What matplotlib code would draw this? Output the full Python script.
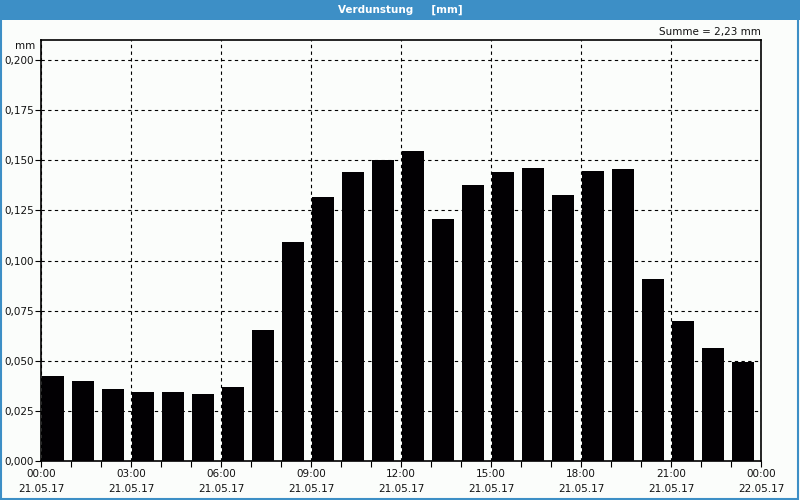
import matplotlib
matplotlib.use('Agg')
import matplotlib.pyplot as plt
import numpy as np
from matplotlib.patches import Rectangle
from matplotlib.ticker import FixedLocator, MultipleLocator, FuncFormatter

# hourly evaporation, 21.05.17 00:00 .. 22.05.17 00:00
hours = np.arange(24)
values = [0.0425, 0.040, 0.036, 0.0345, 0.0345, 0.0335, 0.037, 0.0655,
          0.109, 0.1315, 0.144, 0.150, 0.1545, 0.1205, 0.1375, 0.144,
          0.146, 0.1325, 0.1445, 0.1455, 0.091, 0.070, 0.0565, 0.0495]
tick_hours = [0, 3, 6, 9, 12, 15, 18, 21, 24]
tick_labels = ['00:00\n21.05.17', '03:00\n21.05.17', '06:00\n21.05.17',
               '09:00\n21.05.17', '12:00\n21.05.17', '15:00\n21.05.17',
               '18:00\n21.05.17', '21:00\n21.05.17', '00:00\n22.05.17']
title = 'Verdunstung     [mm]'
sum_text = 'Summe = 2,23 mm'

BLUE = '#3d8fc6'
BG = '#fbfdfb'

plt.rcParams['font.family'] = ['DejaVu Sans']
fig = plt.figure(figsize=(8, 5), dpi=100, facecolor=BG)

# title band and window border
fig.patches.append(Rectangle((0, 0.96), 1, 0.04, transform=fig.transFigure,
                             facecolor=BLUE, edgecolor='none', zorder=0))
fig.patches.append(Rectangle((0.001, 0.002), 0.997, 0.996, transform=fig.transFigure,
                             facecolor='none', edgecolor=BLUE, linewidth=1.5, zorder=0))
fig.text(0.5, 0.98, title, color='white', fontsize=7.5, fontweight='bold',
         ha='center', va='center')

ax = fig.add_axes([0.05125, 0.078, 0.9, 0.842])
ax.set_facecolor(BG)
ax.bar(hours + 0.04, values, width=0.74, align='edge', color='#020003', zorder=3)

ax.set_xlim(0, 24)
ax.set_ylim(0, 0.21)

ax.xaxis.set_major_locator(FixedLocator(tick_hours))
ax.set_xticklabels(tick_labels)
ax.xaxis.set_minor_locator(MultipleLocator(1))
ax.yaxis.set_major_locator(MultipleLocator(0.025))
ax.yaxis.set_major_formatter(FuncFormatter(lambda v, p: f'{v:.3f}'.replace('.', ',')))

ax.tick_params(axis='both', which='major', labelsize=7.5, length=4, width=0.8,
               color='black', labelcolor='#111111', direction='out', pad=1)
ax.tick_params(axis='x', which='minor', length=4, width=0.8, direction='out')
ax.tick_params(axis='x', which='major', pad=2)
for lbl in ax.get_xticklabels():
    lbl.set_linespacing(1.6)

ax.grid(True, which='major', color='black', linestyle=(0, (3, 3)), linewidth=0.8, zorder=1)
ax.set_axisbelow(True)
for sp in ax.spines.values():
    sp.set_linewidth(1.2)
    sp.set_color('black')

fig.text(0.044, 0.908, 'mm', fontsize=7.5, ha='right', va='center', color='#111111')
fig.text(0.951, 0.935, sum_text, fontsize=7.5, ha='right', va='center', color='#111111')

plt.savefig('out.png', dpi=100, facecolor=BG)
plt.close()
